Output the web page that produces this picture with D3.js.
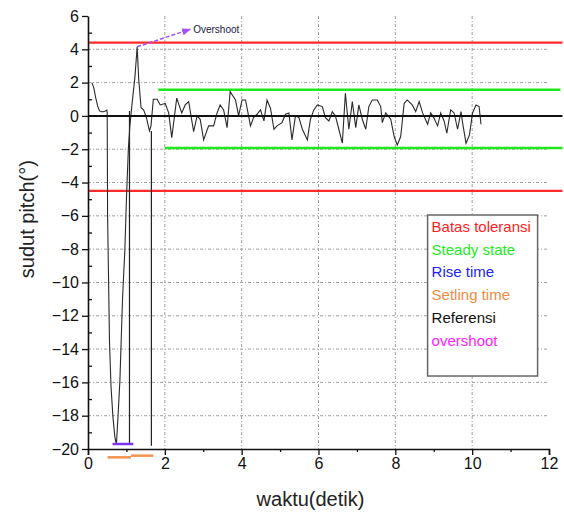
<!DOCTYPE html>
<html>
<head>
<meta charset="utf-8">
<script src="https://cdn.jsdelivr.net/npm/d3@7"></script>
<style>
  body { margin: 0; background: #fff; }
  text { font-family: "Liberation Sans", Arial, sans-serif; }
</style>
</head>
<body>
<div id="chart"></div>
<script>
// respon sudut pitch terhadap waktu
var waktu = [0.1,0.15,0.2,0.25,0.3,0.35,0.4,0.45,0.49,0.5,
   0.51,0.56,0.6,0.65,0.7,0.74,0.78,0.83,0.9,0.96,
   1.0,1.05,1.09,1.15,1.22,1.28,1.32,1.38,1.45,1.52,
   1.6,1.64,1.7,1.8,1.88,2.01,2.1,2.18,2.31,2.44,
   2.53,2.62,2.75,2.84,2.92,3.01,3.14,3.27,3.36,3.44,
   3.53,3.62,3.7,3.84,3.92,4.01,4.1,4.23,4.31,4.4,
   4.49,4.58,4.66,4.75,4.84,4.92,5.05,5.14,5.23,5.31,
   5.4,5.49,5.58,5.71,5.79,5.88,5.97,6.1,6.18,6.27,
   6.36,6.44,6.53,6.62,6.7,6.79,6.88,6.97,7.05,7.14,
   7.23,7.31,7.4,7.53,7.62,7.66,7.75,7.88,7.97,8.05,
   8.14,8.23,8.31,8.44,8.53,8.62,8.71,8.84,8.92,9.0,
   9.1,9.18,9.27,9.34,9.44,9.53,9.62,9.71,9.75,9.84,
   9.93,10.01,10.1,10.18,10.23];

var sudut = [2.0,1.7,1.1,0.6,0.3,0.25,0.25,0.3,0.35,0.2,
   -6.0,-13.6,-16.3,-18.1,-19.3,-19.7,-18.1,-15.9,-10.9,-8.0,
   -5.0,-2.0,-0.6,0.8,2.3,4.15,2.2,0.5,0.35,-0.1,
   -0.9,-0.6,1.0,1.0,0.66,0.75,0.18,-1.3,1.07,0.18,
   0.66,0.86,-0.94,0,-0.2,-1.44,-0.6,-0.6,0.18,0.66,
   0.36,-0.7,1.46,0.96,0,0.96,0.96,-0.6,-0.1,0.1,
   0.36,-0.3,0.96,0.46,-0.8,-0.6,-0.4,0.1,0.18,-1.44,
   0,-0.1,-0.8,-1.44,-0.2,0.36,0.66,0.56,-0.1,-0.3,
   0.26,0,-0.8,-1.64,1.36,-0.8,0.86,-0.7,0.66,-0.2,
   -0.8,0.56,0.96,0.96,0.56,-0.4,0.18,-0.2,-1.24,-1.74,
   -1.24,0.76,0.96,0.66,0.26,0.86,0.18,-0.5,0.18,-0.1,
   -0.6,0.18,-0.3,-1.04,0.36,0.18,-0.8,0.26,-0.4,-1.64,
   -1.14,0.18,0.66,0.56,-0.5];

// garis vertikal bantu (waktu, atas, bawah)
var garisWaktu = [1.08, 1.65];
var garisAtas = [0.3, -0.9];
var garisBawah = [-19.7, -19.8];

// batas toleransi, steady state, referensi: [waktu awal, waktu akhir, nilai]
var batasToleransi = [[0, 12.35, 4.4], [0, 12.35, -4.5]];
var steadyState = [[1.83, 12.3, 1.57], [2.0, 12.35, -1.92]];
var referensi = [[0, 12.35, 0]];
var riseTime = [[0.64, 1.18, -19.7]];
var setlingTime = [[0.51, 1.12, -20.5], [1.12, 1.7, -20.4]];

// panah overshoot: dari puncak ke label
var overshootDari = [1.28, 4.15];
var overshootKe = [2.66, 5.2];
var overshootLabel = "Overshoot";

var xTicks = [0, 2, 4, 6, 8, 10, 12];
var yTicks = [6, 4, 2, 0, -2, -4, -6, -8, -10, -12, -14, -16, -18, -20];

var legendNames = ["Batas toleransi", "Steady state", "Rise time", "Setling time", "Referensi", "overshoot"];
var legendColors = ["#ff2222", "#22ee22", "#2222ff", "#f58a3c", "#111111", "#ff22ff"];

function main() {
   drawChart();
}

function drawChart() {
   var margin = {top: 16, right: 15, bottom: 68, left: 88},
       width = 564 - margin.left - margin.right,
       height = 517 - margin.top - margin.bottom;

   var svg = d3.select("#chart").append("svg")
       .attr("width", 564)
       .attr("height", 517)
     .append("g")
       .attr("transform", "translate(" + margin.left + "," + margin.top + ")");

   var x = d3.scaleLinear().domain([0, 12]).range([0, 461]);
   var y = d3.scaleLinear().domain([6, -20]).range([0, 433]);

   //grid dotted
   svg.append("g").selectAll("line")
      .data(xTicks.slice(1, -1))
      .enter().append("line")
         .attr("x1", function(d) { return x(d); })
         .attr("x2", function(d) { return x(d); })
         .attr("y1", y(6))
         .attr("y2", y(-20))
         .attr("stroke", "#a0a0a0")
         .attr("stroke-width", 1)
         .attr("stroke-dasharray", "3,2,1,2");

   svg.append("g").selectAll("line")
      .data(yTicks.slice(1, -1))
      .enter().append("line")
         .attr("x1", x(0))
         .attr("x2", x(12))
         .attr("y1", function(d) { return y(d); })
         .attr("y2", function(d) { return y(d); })
         .attr("stroke", "#a0a0a0")
         .attr("stroke-width", 1)
         .attr("stroke-dasharray", "3,2,1,2");

   function drawSegments(data, color, w) {
      svg.append("g").selectAll("line")
         .data(data)
         .enter().append("line")
            .attr("x1", function(d) { return x(d[0]); })
            .attr("x2", function(d) { return x(d[1]); })
            .attr("y1", function(d) { return y(d[2]); })
            .attr("y2", function(d) { return y(d[2]); })
            .attr("stroke", color)
            .attr("stroke-width", w);
   }

   drawSegments(batasToleransi, "#ff2a2a", 2.2);
   drawSegments(steadyState, "#1ee81e", 2.5);

   //vertical helper lines
   svg.append("g").selectAll("line")
      .data(garisWaktu)
      .enter().append("line")
         .attr("x1", function(d) { return x(d); })
         .attr("x2", function(d) { return x(d); })
         .attr("y1", function(d, i) { return y(garisAtas[i]); })
         .attr("y2", function(d, i) { return y(garisBawah[i]); })
         .attr("stroke", "#222")
         .attr("stroke-width", 1.2);

   //signal
   var line = d3.line()
      .x(function(d) { return x(d[0]); })
      .y(function(d) { return y(d[1]); });

   svg.append("path")
      .datum(d3.zip(waktu, sudut))
      .attr("d", line)
      .attr("fill", "none")
      .attr("stroke", "#2a2a2a")
      .attr("stroke-width", 1.1);

   drawSegments(referensi, "#111", 2);
   drawSegments(riseTime, "#7a35ee", 2.5);
   drawSegments(setlingTime, "#f5944e", 2.5);

   //overshoot arrow
   svg.append("defs").append("marker")
      .attr("id", "panah")
      .attr("viewBox", "0 0 10 10")
      .attr("refX", 9).attr("refY", 5)
      .attr("markerWidth", 6).attr("markerHeight", 6)
      .attr("orient", "auto")
    .append("path")
      .attr("d", "M0,1 L10,5 L0,9 Z")
      .attr("fill", "#a050ff");

   svg.append("line")
      .attr("x1", x(overshootDari[0]))
      .attr("y1", y(overshootDari[1]))
      .attr("x2", x(overshootKe[0]))
      .attr("y2", y(overshootKe[1]))
      .attr("stroke", "#a050ff")
      .attr("stroke-width", 1.5)
      .attr("stroke-dasharray", "4,2")
      .attr("marker-end", "url(#panah)");

   svg.append("text")
      .attr("x", x(overshootKe[0]) + 3)
      .attr("y", y(overshootKe[1]) + 4)
      .attr("font-size", "10px")
      .attr("fill", "#222244")
      .text(overshootLabel);

   //axes
   var xAxis = d3.axisBottom(x)
      .tickValues(xTicks)
      .tickSize(6)
      .tickPadding(3)
      .tickFormat(d3.format("d"));

   var xMinor = d3.axisBottom(x)
      .tickValues(d3.range(1, 12, 2))
      .tickSize(3)
      .tickFormat("");

   var yAxis = d3.axisLeft(y)
      .tickValues(yTicks)
      .tickSizeInner(6)
      .tickSizeOuter(0)
      .tickPadding(3)
      .tickFormat(d3.format("d"));

   var yMinor = d3.axisRight(y)
      .tickValues(d3.range(5, -20, -2))
      .tickSize(4)
      .tickFormat("");

   var gx = svg.append("g")
      .attr("class", "x axis")
      .attr("transform", "translate(0," + y(-20) + ")")
      .call(xAxis);
   gx.selectAll("text")
      .attr("font-size", "16px")
      .attr("font-family", "Liberation Sans, Arial, sans-serif")
      .attr("fill", "#111");

   svg.append("g")
      .attr("transform", "translate(0," + y(-20) + ")")
      .call(xMinor)
      .select(".domain").remove();

   var gy = svg.append("g")
      .attr("class", "y axis")
      .call(yAxis);
   gy.selectAll("text")
      .attr("font-size", "16px")
      .attr("font-family", "Liberation Sans, Arial, sans-serif")
      .attr("fill", "#111");

   svg.append("g")
      .call(yMinor)
      .select(".domain").remove();

   svg.selectAll(".domain").attr("stroke", "#111").attr("stroke-width", 1.6);
   svg.selectAll(".tick line").attr("stroke", "#111").attr("stroke-width", 1.3);

   //axis titles
   svg.append("text")
      .attr("x", x(6) - 8)
      .attr("y", y(-20) + 57)
      .attr("text-anchor", "middle")
      .attr("font-size", "20px")
      .attr("fill", "#222")
      .text("waktu(detik)");

   svg.append("text")
      .attr("transform", "translate(" + (-54) + "," + (y(-6.2)) + ") rotate(-90)")
      .attr("text-anchor", "middle")
      .attr("font-size", "20px")
      .attr("fill", "#222")
      .text("sudut pitch(°)");

   //legend
   var legend = svg.append("g")
      .attr("transform", "translate(" + (x(8.84)) + "," + (y(-5.95)) + ")");

   legend.append("rect")
      .attr("width", 110)
      .attr("height", 161)
      .attr("fill", "#fff")
      .attr("stroke", "#666")
      .attr("stroke-width", 1.5);

   legend.selectAll("text")
      .data(legendNames)
      .enter().append("text")
         .attr("x", 4)
         .attr("y", function(d, i) { return 17 + i * 22.7; })
         .attr("font-size", "15px")
         .attr("fill", function(d, i) { return legendColors[i]; })
         .text(function(d) { return d; });
}

main();
</script>
</body>
</html>
